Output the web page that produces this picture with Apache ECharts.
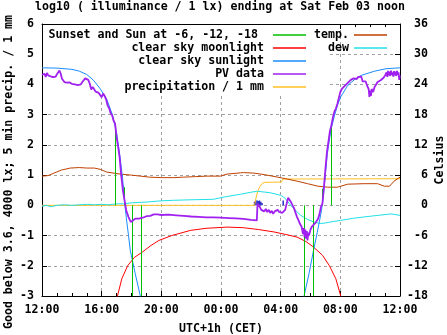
<!DOCTYPE html>
<html>
<head>
<meta charset="utf-8">
<script src="https://cdn.jsdelivr.net/npm/echarts@6/dist/echarts.min.js"></script>
<style>
html,body{margin:0;padding:0;background:#fff;}
#chart{width:447px;height:335px;}
</style>
</head>
<body>
<div id="chart"></div>
<script>
// ---- data (hours after Fri 12:00, UTC+1) ----
var xTickLabels = ['12:00','16:00','20:00','00:00','04:00','08:00','12:00'];

// Sunset / sun at -6, -12, -18 marks: time (h) and top of vertical mark (log10 lx)
var sunMarkHours = [4.91, 5.52, 6.07, 6.66, 17.57, 18.17, 18.8, 19.38];
var sunMarkTops  = [2.59, 0.6, -3, -3, -3, -3, 0.55, 2.7];

var moonData = [[5.0,-3.3],[5.06,-3],[5.35,-2.43],[5.74,-2.0],[6.2,-1.72],[6.72,-1.55],[7.3,-1.33],[7.84,-1.16],[8.7,-1.0],[9.95,-0.83],[11,-0.76],[12.4,-0.72],[13.5,-0.74],[14.5,-0.8],[15.55,-0.88],[16.3,-0.96],[17.1,-1.05],[17.7,-1.2],[18.2,-1.38],[18.8,-1.65],[19.27,-2.0],[19.7,-2.43],[20.03,-3],[20.08,-3.3]];

var sunData = [[0,4.55],[1,4.54],[2,4.5],[2.5,4.44],[3,4.33],[3.45,4.14],[3.9,3.86],[4.35,3.5],[4.73,2.98],[5.0,2.4],[5.23,1.6],[5.4,0.9],[5.5,0.35],[5.58,-0.1],[5.65,-0.4],[5.8,-1.0],[5.92,-1.5],[6.25,-2.26],[6.59,-3],[6.65,-3.2],
  [17.5,-3.2],[17.57,-3],[17.9,-2.26],[18.2,-1.5],[18.45,-0.9],[18.7,-0.27],[18.8,0.05],[18.9,0.5],[19.0,1.05],[19.13,1.71],[19.36,2.48],[19.6,2.95],[19.8,3.3],[20.03,3.59],[20.5,3.97],[21.0,4.18],[21.4,4.3],[22.3,4.44],[23.06,4.52],[24,4.55]];

var pvData = [[0,4.32],[0.08,4.28],[0.17,4.35],[0.25,4.25],[0.33,4.38],[0.42,4.3],[0.5,4.36],[0.58,4.27],[0.67,4.33],[0.75,4.24],[0.83,4.3],[0.92,4.26],[1.0,4.34],[1.08,4.28],[1.17,4.46],[1.25,4.36],[1.33,4.2],[1.42,4.15],[1.5,4.08],[1.58,4.12],[1.67,4.06],[1.75,4.04],[1.83,4.07],[1.92,4.03],[2.0,4.02],[2.1,4.04],[2.2,4.0],[2.3,4.03],[2.4,3.98],[2.5,3.97],[2.6,4.0],[2.7,4.08],[2.8,4.14],[2.9,4.2],[3.0,4.22],[3.1,4.15],[3.2,4.03],[3.3,3.83],[3.4,3.92],[3.5,3.9],[3.6,3.76],[3.7,3.8],[3.8,3.72],[3.9,3.75],[4.0,3.58],[4.1,3.7],[4.2,3.62],[4.3,3.5],[4.4,3.3],[4.5,3.22],[4.6,3.05],[4.7,2.98],[4.8,2.8],[4.9,2.7],[5.0,2.26],[5.1,1.95],[5.2,1.6],[5.3,1.05],[5.42,0.5],[5.53,0.17],[5.65,-0.17],[5.8,-0.39],[5.95,-0.55],[6.1,-0.5],[6.25,-0.44],[6.5,-0.44],[6.75,-0.41],[7.0,-0.36],[7.25,-0.35],[7.5,-0.3],[7.75,-0.3],[8.0,-0.32],[8.5,-0.31],[9.0,-0.33],[9.5,-0.35],[10.0,-0.37],[10.5,-0.38],[11.0,-0.4],[11.5,-0.4],[12.0,-0.41],[12.5,-0.42],[13.0,-0.43],[13.5,-0.45],[14.0,-0.48],[14.4,-0.5],[14.45,0.05],[14.5,0.1],[14.6,-0.05],[14.7,-0.15],[14.8,-0.1],[14.9,-0.2],[15.0,-0.12],[15.1,-0.22],[15.2,-0.15],[15.3,-0.25],[15.4,-0.18],[15.5,-0.28],[15.6,-0.2],[15.7,-0.25],[15.8,-0.15],[15.9,-0.22],[16.0,-0.18],[16.1,-0.25],[16.2,-0.2],[16.3,-0.15],[16.4,-0.1],[16.5,0.25],[16.55,0.3],[16.6,0.2],[16.7,0.1],[16.8,0.0],[16.9,-0.1],[17.0,-0.25],[17.1,-0.39],[17.2,-0.5],[17.3,-0.62],[17.4,-0.7],[17.5,-0.95],[17.55,-0.75],[17.6,-1.05],[17.65,-0.8],[17.7,-1.1],[17.75,-0.85],[17.8,-1.16],[17.85,-0.9],[17.9,-1.0],[18.0,-0.8],[18.1,-0.7],[18.2,-0.66],[18.3,-0.6],[18.4,-0.55],[18.5,-0.45],[18.6,-0.3],[18.7,-0.05],[18.8,0.06],[18.9,0.6],[19.0,1.2],[19.1,1.75],[19.2,2.1],[19.3,2.45],[19.4,2.65],[19.5,2.9],[19.6,3.1],[19.7,3.2],[19.8,3.35],[19.9,3.55],[20.0,3.75],[20.1,3.85],[20.2,3.9],[20.3,3.95],[20.4,4.0],[20.5,4.05],[20.6,4.1],[20.7,4.15],[20.8,4.12],[20.9,4.2],[21.0,4.22],[21.1,4.18],[21.2,4.25],[21.3,4.2],[21.4,4.26],[21.5,4.1],[21.6,4.08],[21.7,4.1],[21.8,3.95],[21.9,3.85],[21.95,3.59],[22.0,3.8],[22.05,3.62],[22.1,3.85],[22.2,3.75],[22.3,3.92],[22.4,4.0],[22.5,4.08],[22.6,4.1],[22.7,4.14],[22.8,4.18],[22.9,4.22],[23.0,4.3],[23.1,4.4],[23.15,4.25],[23.2,4.45],[23.25,4.3],[23.3,4.42],[23.35,4.28],[23.4,4.46],[23.45,4.32],[23.5,4.4],[23.55,4.26],[23.6,4.44],[23.65,4.3],[23.7,4.42],[23.75,4.28],[23.8,4.45],[23.85,4.32],[23.9,4.4],[23.95,4.15],[24.0,4.3]];

var precipSumData = [[0,0],[14.25,0],[14.35,0.25],[14.45,0.44],[14.6,0.62],[14.75,0.72],[14.9,0.76],[16.05,0.77],[16.15,0.87],[24,0.88]];
var precipBarData = [[14.25,0.12],[14.33,0.16],[14.42,0.16],[14.5,0.14],[14.58,0.16],[14.67,0.12],[14.75,0.08],[16.17,0.16]];

var tempData = [[0,5.8],[0.4,5.9],[0.8,6.4],[1.3,7.0],[1.9,7.4],[2.5,7.5],[3.0,7.4],[3.5,7.4],[3.9,7.15],[4.34,6.6],[5.24,6.2],[6.0,6.0],[6.59,5.8],[7.2,5.6],[8.0,5.5],[8.83,5.5],[9.5,5.6],[10.3,5.7],[11.07,5.8],[11.97,5.8],[12.4,6.2],[13.3,6.45],[13.5,6.5],[14.2,6.4],[14.9,6.1],[15.8,5.6],[16.3,5.3],[17.1,4.8],[17.8,4.3],[18.5,3.8],[19.15,3.6],[19.8,3.6],[20.5,4.2],[21.6,4.3],[22.5,4.3],[22.95,3.8],[23.3,3.8],[23.6,4.8],[24,5.6]];

var dewData = [[0,-0.2],[0.3,0],[0.6,-0.3],[1,0],[1.5,0.1],[2,0],[2.5,0.1],[3,0.2],[3.5,0.1],[4,0.2],[4.5,0.1],[5,0.3],[5.47,0.3],[6,0.5],[7.04,0.66],[8,0.9],[8.83,1.0],[10,1.1],[11.5,1.2],[12.2,1.65],[13.3,2.2],[14,2.6],[14.43,2.8],[15.3,2.5],[16,2.0],[16.3,1.4],[16.67,0.0],[17.0,-1.0],[17.35,-2.0],[17.8,-2.8],[18.3,-3.4],[18.7,-3.6],[19.0,-3.5],[19.36,-3.3],[20.0,-3.0],[20.8,-2.6],[21.6,-2.3],[22.5,-2.0],[23.4,-1.7],[24,-2.0]];

// ---- styling ----
var FONT = 'DejaVu Sans Mono';
var txt = {fontFamily: FONT, fontSize: 11.6, fontWeight: 'bold', color: '#000'};
var gridLine = {show: true, lineStyle: {color: '#a0a0a0', type: [3, 3], width: 1}};
var C = {green:'#00c000', red:'#ff0000', blue:'#1a8cff', purple:'#a020f0', yellow:'#ffc020', temp:'#c04000', dew:'#20e0e8', bars:'#2a2ac8'};
var frame = {show: true, onZero: false, lineStyle: {color: '#000', width: 1}};
var tick = {show: true, inside: true, length: 5, lineStyle: {color: '#000'}};
var minor = {show: true, splitNumber: 4, length: 3, lineStyle: {color: '#000'}};

var sunMarkLines = sunMarkHours.map(function (h, i) {
  return [{coord: [h, 0]}, {coord: [h, sunMarkTops[i]]}];
});

function legendItem(name, right, top, padRight) {
  return {
    data: [name], right: right, top: top, orient: 'horizontal', align: 'right',
    icon: 'rect', itemWidth: 33, itemHeight: 1.5, padding: 0, itemGap: 0,
    selectedMode: false,
    textStyle: Object.assign({}, txt, {lineHeight: 13, padding: [0, padRight, 0, 0]})
  };
}

var option = {
  animation: false,
  backgroundColor: '#fff',
  title: {text: 'log10 ( illuminance / 1 lx) ending at Sat Feb 03 noon', left: 35, top: 1, padding: 0, textStyle: txt},
  graphic: [{type: 'rect', shape: {x: 43, y: 25, width: 285, height: 70}, style: {fill: '#fff'}, z: 1, silent: true}],
  legend: [
    legendItem('Sunset and Sun at -6, -12, -18', 141, 28.5, 10),
    legendItem('clear sky moonlight', 141, 41.5, 4),
    legendItem('clear sky sunlight', 141, 54.5, 4),
    legendItem('PV data', 141, 67.5, 4),
    legendItem('precipitation / 1 mm', 141, 80.5, 4),
    legendItem('temp.', 60, 28.5, 0),
    legendItem('dew', 60, 41.5, 0)
  ],
  grid: {left: 42, right: 47, top: 24, bottom: 39, containLabel: false, outerBoundsMode: 'none'},
  xAxis: [{
    type: 'value', min: 0, max: 24, interval: 4, position: 'bottom',
    axisLine: frame, axisTick: tick, minorTick: minor,
    axisLabel: Object.assign({}, txt, {margin: 8, formatter: function (v) { return xTickLabels[Math.round(v / 4)]; }}),
    splitLine: gridLine,
    name: 'UTC+1h (CET)', nameLocation: 'middle', nameGap: 27, nameTextStyle: txt
  }, {
    type: 'value', min: 0, max: 24, interval: 4, position: 'top',
    axisLine: frame, axisTick: tick, minorTick: minor,
    axisLabel: {show: false}, splitLine: {show: false}
  }],
  yAxis: [{
    type: 'value', min: -3, max: 6, interval: 1, position: 'left',
    axisLine: frame, axisTick: tick,
    axisLabel: Object.assign({}, txt, {margin: 8}),
    splitLine: gridLine,
    name: 'Good below 3.6, 4000 lx; 5 min precip. / 1 mm', nameLocation: 'middle', nameRotate: 90, nameGap: 27,
    nameMoveOverlap: false,
    nameTextStyle: Object.assign({}, txt, {padding: [0, 24, 0, 0]})
  }, {
    type: 'value', min: -18, max: 36, interval: 6, position: 'right',
    axisLine: frame, axisTick: tick,
    axisLabel: Object.assign({}, txt, {margin: 28, align: 'right'}),
    splitLine: {show: false},
    name: 'Celsius', nameLocation: 'middle', nameRotate: 90, nameGap: 34, nameMoveOverlap: false, nameTextStyle: txt
  }],
  series: [
    {name: 'precipitation / 1 mm', type: 'line', data: precipSumData, symbol: 'none', z: 3,
     lineStyle: {color: C.yellow, width: 1}, itemStyle: {color: C.yellow}},
    {name: 'precip5', type: 'bar', data: precipBarData, barWidth: 1.5, z: 3,
     itemStyle: {color: C.bars}},
    {name: 'temp.', type: 'line', yAxisIndex: 1, data: tempData, symbol: 'none', z: 3,
     lineStyle: {color: C.temp, width: 1}, itemStyle: {color: C.temp}},
    {name: 'dew', type: 'line', yAxisIndex: 1, data: dewData, symbol: 'none', z: 3,
     lineStyle: {color: C.dew, width: 1}, itemStyle: {color: C.dew}},
    {name: 'clear sky moonlight', type: 'line', data: moonData, symbol: 'none', z: 4,
     lineStyle: {color: C.red, width: 1}, itemStyle: {color: C.red}},
    {name: 'clear sky sunlight', type: 'line', data: sunData, symbol: 'none', z: 4,
     lineStyle: {color: C.blue, width: 1}, itemStyle: {color: C.blue}},
    {name: 'PV data', type: 'line', data: pvData, symbol: 'none', z: 5,
     lineStyle: {color: C.purple, width: 1.8}, itemStyle: {color: C.purple}},
    {name: 'Sunset and Sun at -6, -12, -18', type: 'line', data: [], symbol: 'none', z: 6,
     lineStyle: {color: C.green, width: 1}, itemStyle: {color: C.green},
     markLine: {silent: true, symbol: ['none', 'none'], label: {show: false},
       lineStyle: {color: C.green, width: 1, type: 'solid'}, emphasis: {disabled: true},
       data: sunMarkLines}}
  ]
};

var chart = echarts.init(document.getElementById('chart'), null, {renderer: 'canvas'});
chart.setOption(option);
</script>
</body>
</html>
